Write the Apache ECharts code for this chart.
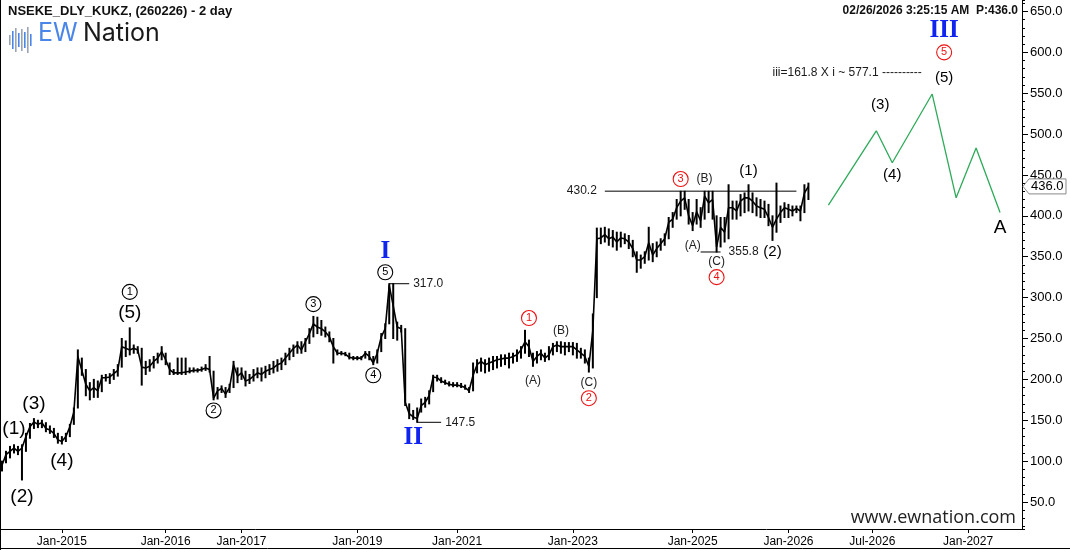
<!DOCTYPE html>
<html><head><meta charset="utf-8">
<script src="https://cdn.jsdelivr.net/npm/echarts@6/dist/echarts.min.js"></script>
<style>html,body{margin:0;padding:0;background:#fff}#c{width:1070px;height:550px}</style>
</head><body><div id="c"></div>
<script>
// ---------- DATA ----------
const slotCount = 256;
const tickSlots  = [15, 41, 60, 89, 114, 143, 173, 197, 218, 242];
const tickLabels = ['Jan-2015','Jan-2016','Jan-2017','Jan-2019','Jan-2021','Jan-2023','Jan-2025','Jan-2026','Jul-2026','Jan-2027'];

const lows = [88,98,104,110,108,77,112,128,140,141,141,136,134,129,122,121,124,130,145,165,
205,180,175,178,178,185,198,195,200,204,215,228,230,232,232,193,206,210,214,220,
224,218,206,206,206,206,206,208,209,209,210,211,209,175,176,184,178,184,190,196,
200,192,195,198,202,198,202,206,208,210,212,218,224,228,232,232,234,244,252,256,
254,252,246,220,230,230,229,225,224,224,224,226,224,218,220,234,250,268,250,248,
258,168,152,151,147.5,160,166,170,185,198,196,194,192,191,191,190,188,184,186,208,
210,208,210,212,214,216,218,214,220,222,226,232,228,216,220,224,222,224,230,234,
232,230,234,230,226,226,220,209,214,300,366,368,364,362,358,362,366,360,350,331,
336,342,346,344,350,358,364,372,386,396,400,408,390,382,390,386,396,404,396,355.8,
362,368,372,396,396,400,404,406,404,400,398,398,388,370,380,392,398,398,400,404,
394,404,420];
const highs = [100,112,118,120,118,120,134,146,152,150,150,147,143,140,134,130,134,145,165,236,
226,212,196,200,198,205,206,207,212,218,250,247,263,242,240,238,222,224,228,232,
240,232,220,212,226,226,226,214,214,213,215,218,228,210,190,192,190,194,222,214,
214,210,206,212,214,214,216,218,222,224,226,232,238,242,246,246,250,262,277,276,
272,264,258,250,236,234,233,232,228,228,228,234,234,228,236,256,268,317,317,270,
266,262,170,162,165,176,178,186,205,205,202,199,197,196,196,195,193,190,220,224,
226,224,226,228,228,230,230,232,232,236,240,260,248,232,234,236,232,240,244,246,
246,245,245,245,244,238,236,226,280,385,385,386,384,382,380,380,378,376,370,356,
352,356,386,366,368,372,378,398,404,420,430,430,420,404,420,410,430,430,430,400,
398,398,438,418,418,426,428,438,428,422,420,418,414,400,440,412,416,414,412,412,
412,438,440];
const closes = [95,108,112,116,112,116,130,142,148,145,147,140,138,134,126,124,130,142,160,228,
211,194,186,190,186,202,202,203,207,211,240,238,236,238,236,215,214,216,222,226,
234,224,212,208,208,208,209,210,211,211,212,214,212,177,186,189,182,190,218,204,
208,198,200,204,208,206,210,212,214,218,220,226,232,238,242,236,246,256,268,264,
262,258,252,240,232,232,231,227,226,226,226,232,228,220,232,252,262,315,290,264,
262,172,158,154,152,168,172,180,203,202,198,196,194,193,193,192,190,186,205,218,
222,218,220,222,224,225,226,226,228,230,236,246,240,222,228,232,226,230,240,242,
240,240,240,240,236,232,228,216,260,372,373,377,372,374,368,373,372,368,360,346,
346,350,367,352,360,366,372,392,396,410,418,422,400,388,405,394,424,416,420,362,
386,380,410,410,406,418,422,422,418,412,410,408,398,386,396,404,410,408,406,409,
406,428,436];

const lastPrice = 436.0;
const projSlots  = [207, 219, 223, 233, 239, 244, 250];
const projValues = [413, 504, 465, 549, 422, 483, 404];

// level lines: [fromSlot, toSlot, value]
const levelLines = [[97,102,317.0],[104,110,147.5],[151,199,430.2],[175,180,355.8]];
// level notes: [slot, value, text]
const levelNotesLeft  = [[103,317.0,'317.0'],[111,147.5,'147.5'],[182,355.8,'355.8']];
const levelNotesRight = [[150,430.2,'430.2']];
const targetNote = [[193,575,'iii=161.8 X i ~ 577.1 ----------']];

// wave labels: [slot, value, text]
const bigWaveLabels   = [[3,139,'(1)'],[5,57,'(2)'],[8,170,'(3)'],[15,100,'(4)'],[32,282,'(5)'],[250,385,'A']];
const midWaveLabels   = [[187,455,'(1)'],[193,356,'(2)'],[220,536,'(3)'],[223,450,'(4)'],[236,569,'(5)']];
const smallWaveLabels = [[140,259,'(B)'],[133,198,'(A)'],[147,196,'(C)'],[176,446,'(B)'],[173,364,'(A)'],[179,344,'(C)']];
const circledBlack    = [[32,307,'1'],[53,162,'2'],[78,292,'3'],[93,205,'4'],[96,331,'5']];
const circledRed      = [[132,275,'1'],[147,177,'2'],[170,445,'3'],[179,325,'4'],[236,600,'5']];
const romanBlue       = [[96,356,'I'],[103,129,'II'],[236,627,'III']];

// ---------- CHART ----------
const tickSet = new Set(tickSlots);
const labelMap = {};
tickSlots.forEach((s, k) => labelMap[s] = tickLabels[k]);
const categories = Array.from({length: slotCount}, (_, i) => 's' + i);

const FONT = 'Liberation Sans, Arial, sans-serif';

function textSeries(arr, label) {
  return {
    type: 'scatter', symbolSize: 0, z: 10, silent: true,
    itemStyle: {color: '#fff', opacity: 1},
    emphasis: {disabled: true},
    data: arr.map(a => ({value: [a[0], a[1]], name: a[2]})),
    label: Object.assign({show: true, formatter: '{b}', fontFamily: FONT, color: '#000',
                          textBorderWidth: 0, textShadowBlur: 0, opacity: 1}, label)
  };
}
function circleSeries(arr, color) {
  return {
    type: 'scatter', symbol: 'circle', symbolSize: 15, z: 11, silent: true,
    itemStyle: {color: '#fff', borderColor: color, borderWidth: 1.1, opacity: 1},
    emphasis: {disabled: true},
    data: arr.map(a => ({value: [a[0], a[1]], name: a[2]})),
    label: {show: true, position: 'inside', formatter: '{b}', fontSize: 11, color: color, fontFamily: FONT,
            textBorderWidth: 0, opacity: 1}
  };
}

const series = [
  {
    type: 'custom', z: 3, silent: true,
    data: lows.map((l, i) => [i, l, highs[i]]),
    encode: {x: 0, y: [1, 2]},
    renderItem: (params, api) => {
      const i = api.value(0);
      const p1 = api.coord([i, api.value(1)]);
      const p2 = api.coord([i, api.value(2)]);
      return {type: 'line', shape: {x1: p1[0], y1: p1[1] + 0.5, x2: p2[0], y2: p2[1] - 0.5},
              style: {stroke: '#000', lineWidth: 2}};
    }
  },
  {type: 'line', data: closes, symbol: 'none', z: 4, lineStyle: {color: '#000', width: 1.6}, silent: true},
  {type: 'line', data: projSlots.map((s, k) => [s, projValues[k]]), symbol: 'none', z: 4,
   lineStyle: {color: '#2eaa5a', width: 1.3}, silent: true}
];
levelLines.forEach(l => series.push({
  type: 'line', data: [[l[0], l[2]], [l[1], l[2]]], symbol: 'none', z: 5, silent: true,
  lineStyle: {color: '#000', width: 1}
}));
series.push(textSeries(levelNotesLeft,  {position: 'inside', align: 'left', fontSize: 12, color: '#1a1a1a'}));
series.push(textSeries(levelNotesRight, {position: 'inside', align: 'right', fontSize: 12, color: '#1a1a1a', offset: [-4, 0]}));
series.push(textSeries(targetNote,      {position: 'inside', align: 'left', fontSize: 12, color: '#1a1a1a'}));
series.push(textSeries(bigWaveLabels,   {position: 'inside', fontSize: 19, color: '#000'}));
series.push(textSeries(midWaveLabels,   {position: 'inside', fontSize: 15, color: '#000'}));
series.push(textSeries(smallWaveLabels, {position: 'inside', fontSize: 12, color: '#222'}));
series.push(textSeries(romanBlue,       {position: 'inside', fontSize: 25, fontWeight: 'bold',
  fontFamily: 'Liberation Serif, Times New Roman, serif', color: '#1024f0'}));
series.push(circleSeries(circledBlack, '#000'));
series.push(circleSeries(circledRed, '#ee1111'));

const chart = echarts.init(document.getElementById('c'), null, {renderer: 'canvas'});
chart.setOption({
  animation: false,
  backgroundColor: '#fff',
  grid: {left: 0, right: 48, top: 0, bottom: 21},
  xAxis: {
    type: 'category', data: categories, boundaryGap: true,
    axisLine: {show: true, lineStyle: {color: '#000', width: 1}},
    axisTick: {show: true, alignWithLabel: true, interval: (i) => tickSet.has(i), length: 4, lineStyle: {color: '#000'}},
    axisLabel: {interval: (i) => tickSet.has(i), formatter: (v, i) => labelMap[i] || '', color: '#000',
                fontSize: 12, margin: 7, fontFamily: FONT},
    splitLine: {show: false}
  },
  yAxis: [
    {type: 'value', position: 'right', min: 17, max: 664, minInterval: 50, maxInterval: 50,
     splitLine: {show: false},
     axisLine: {show: true, lineStyle: {color: '#000'}},
     axisTick: {show: true, length: 6, lineStyle: {color: '#000'}},
     axisLabel: {showMinLabel: false, showMaxLabel: false, formatter: v => v.toFixed(1), color: '#000',
                 fontSize: 13, margin: 8, fontFamily: FONT}},
    {type: 'value', position: 'right', min: 17, max: 664, minInterval: 10, maxInterval: 10,
     splitLine: {show: false}, axisLine: {show: false},
     axisTick: {show: true, length: 3, lineStyle: {color: '#000'}},
     axisLabel: {show: false}}
  ],
  series: series
});

// decorations
const py = chart.convertToPixel({yAxisIndex: 0}, lastPrice);
const axisX = chart.getWidth() - 48;
const iconBars = [[9,31,10,'#9aa3b5'],[12,27,18,'#4a86e8'],[15,24,24,'#9aa3b5'],[18,29,14,'#4a86e8'],
                  [21,25,22,'#9aa3b5'],[24,28,16,'#4a86e8'],[27,23,26,'#9aa3b5'],[30,30,12,'#4a86e8']];
const graphics = [
  {type: 'text', left: 8, top: 5, style: {text: 'NSEKE_DLY_KUKZ, (260226) - 2 day', font: 'bold 13px ' + FONT, fill: '#111'}},
  {type: 'text', left: 38, top: 21, style: {text: 'EW', font: '25px Inter, Lato, sans-serif', fill: '#4a86e8'}},
  {type: 'text', left: 83, top: 21, style: {text: 'Nation', font: '25px Inter, Lato, sans-serif', fill: '#1a1a1a'}},
  {type: 'text', right: 52, top: 5, style: {text: '02/26/2026 3:25:15 AM  P:436.0', font: 'bold 12px ' + FONT, fill: '#111'}},
  {type: 'text', right: 54, top: 509, style: {text: 'www.ewnation.com', font: '18px Open Sans, sans-serif', fill: '#222'}},
  {type: 'polygon', shape: {points: [[axisX + 1, py], [axisX + 7, py - 7.5], [1066, py - 7.5], [1066, py + 7.5], [axisX + 7, py + 7.5]]},
   style: {fill: '#fff', stroke: '#8a8a8a', lineWidth: 1}, z: 50},
  {type: 'text', x: axisX + 9, y: py, z: 51, style: {text: lastPrice.toFixed(1), font: '13px ' + FONT, fill: '#000', verticalAlign: 'middle'}},
  {type: 'line', shape: {x1: 0.5, y1: 0, x2: 0.5, y2: 550}, style: {stroke: '#000', lineWidth: 1}},
  {type: 'line', shape: {x1: 0, y1: 548.5, x2: 1070, y2: 548.5}, style: {stroke: '#000', lineWidth: 1}}
];
iconBars.forEach(b => graphics.push({type: 'rect', shape: {x: b[0], y: b[1] + 4, width: 1.6, height: b[2]}, style: {fill: b[3]}}));
chart.setOption({graphic: graphics});
</script>
</body></html>
